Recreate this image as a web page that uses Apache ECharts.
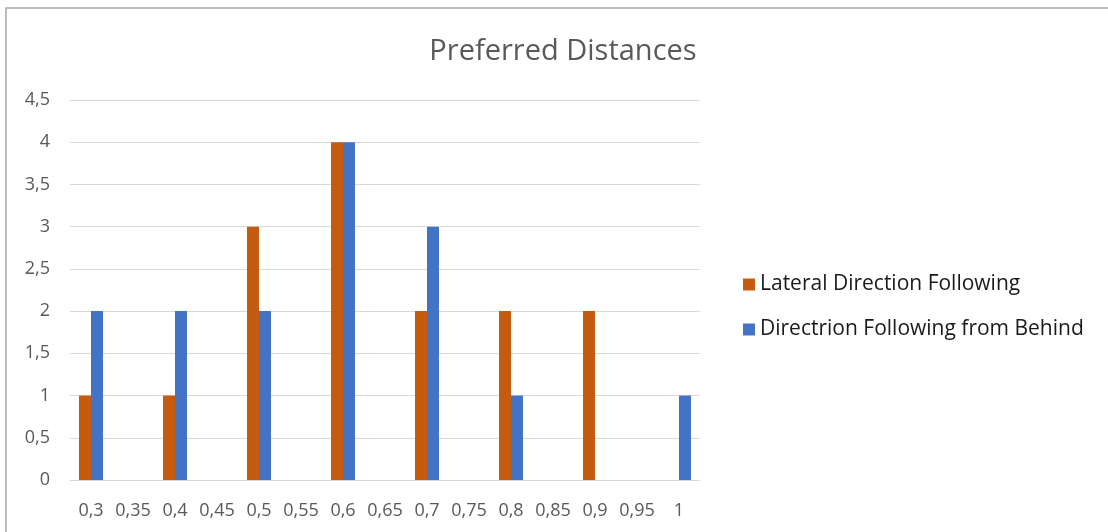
<!DOCTYPE html>
<html>
<head>
<meta charset="utf-8">
<title>Preferred Distances</title>
<script src="https://cdn.jsdelivr.net/npm/echarts@6/dist/echarts.min.js"></script>
<style>
  html, body { margin: 0; padding: 0; background: #fff; }
  #chart { width: 1108px; height: 532px; }
</style>
</head>
<body>
<div id="chart"></div>
<script>
// Distance categories (decimal comma labels)
const distances = ['0,3', '0,35', '0,4', '0,45', '0,5', '0,55', '0,6', '0,65', '0,7', '0,75', '0,8', '0,85', '0,9', '0,95', '1'];
// Counts per distance
const lateralFollowing = [1, 0, 1, 0, 3, 0, 4, 0, 2, 0, 2, 0, 2, 0, 0];
const behindFollowing  = [2, 0, 2, 0, 2, 0, 4, 0, 3, 0, 1, 0, 0, 0, 1];
const seriesNames = ['Lateral Direction Following', 'Directrion Following from Behind'];

const FONT = '"Open Sans", "Noto Sans", sans-serif';
const chart = echarts.init(document.getElementById('chart'), null, { renderer: 'canvas' });

chart.setOption({
  animation: false,
  backgroundColor: '#ffffff',
  title: {
    text: 'Preferred Distances',
    left: 558,
    textAlign: 'center',
    top: 32,
    textStyle: { fontFamily: FONT, fontSize: 29, fontWeight: 'normal', color: '#595959' }
  },
  legend: {
    orient: 'vertical',
    left: 738,
    top: 269,
    itemWidth: 12,
    itemHeight: 12,
    itemGap: 24,
    icon: 'rect',
    textStyle: { fontFamily: FONT, fontSize: 21, color: '#1a1a1a' },
    data: seriesNames
  },
  grid: { left: 70, right: 408, top: 100, bottom: 52, containLabel: false },
  xAxis: {
    type: 'category',
    data: distances,
    axisLine: { show: true, lineStyle: { color: '#d9d9d9', width: 1 } },
    axisTick: { show: false },
    axisLabel: { fontFamily: FONT, fontSize: 18, color: '#595959', margin: 22, interval: 0 }
  },
  yAxis: {
    type: 'value',
    min: 0,
    max: 4.5,
    interval: 0.5,
    axisLine: { show: false },
    axisTick: { show: false },
    splitLine: { lineStyle: { color: '#d9d9d9', width: 1 } },
    axisLabel: {
      fontFamily: FONT, fontSize: 18, color: '#595959', margin: 20,
      formatter: v => String(v).replace('.', ',')
    }
  },
  series: [
    {
      name: seriesNames[0],
      type: 'bar',
      data: lateralFollowing,
      barWidth: 12,
      barGap: '0%',
      itemStyle: { color: '#C55A11' }
    },
    {
      name: seriesNames[1],
      type: 'bar',
      data: behindFollowing,
      barWidth: 12,
      barGap: '0%',
      itemStyle: { color: '#4472C4' }
    }
  ],
  graphic: [
    {
      type: 'rect',
      shape: { x: 6, y: 8, width: 1300, height: 800 },
      style: { fill: null, stroke: '#a6a6a6', lineWidth: 1.5 },
      silent: true,
      z: -1
    }
  ]
});
</script>
</body>
</html>
